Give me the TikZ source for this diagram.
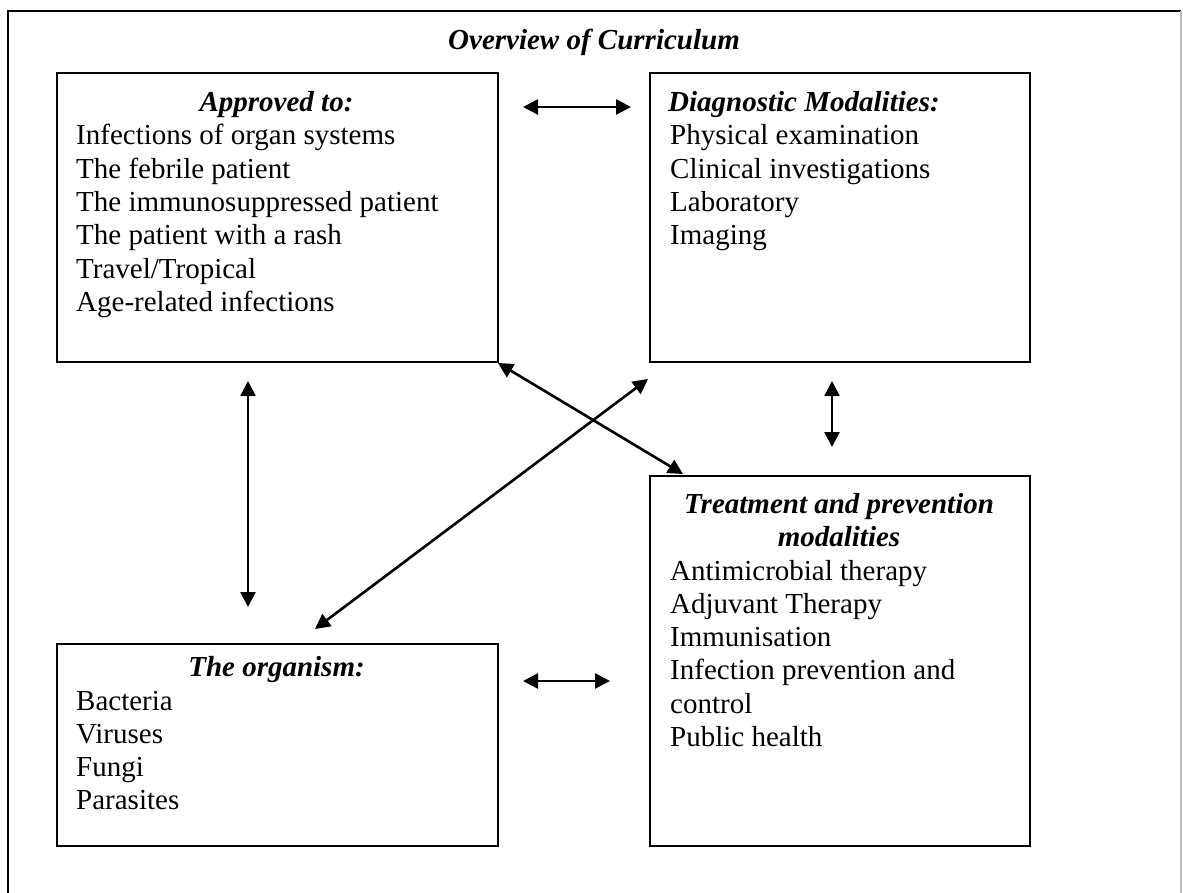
\documentclass[tikz,border=0pt]{standalone}
\usepackage{fontspec}
\setmainfont{Liberation Serif}
\usetikzlibrary{arrows.meta}
\newcommand{\lst}[1]{\begin{tabular}[t]{@{}l@{}}#1\end{tabular}}
\newcommand{\ctr}[1]{\begin{tabular}[t]{@{}c@{}}#1\end{tabular}}
\tikzset{
  box/.style={draw, line width=2pt, anchor=north west, inner sep=0pt},
  head/.style={anchor=base, font=\fontsize{29}{33.3}\selectfont\bfseries\itshape, inner sep=0pt},
  items/.style={anchor=base west, font=\fontsize{29}{33.3}\selectfont, inner sep=0pt},
  link/.style={line width=2.6pt, {Triangle[length=15pt,width=15pt]}-{Triangle[length=15pt,width=15pt]}}
}
\begin{document}
\begin{tikzpicture}[x=1pt,y=-1pt]
\useasboundingbox (0,0) rectangle (1183,893);
\fill[white] (0,0) rectangle (1183,893);
\draw[line width=2pt] (8,900) -- (8,11.5) -- (1181,11.5);
\draw[line width=2pt, black!25] (1181,11.5) -- (1181,900);
\node[head] (title) at (594,50) {Overview of Curriculum};

\node[box, minimum width=441pt, minimum height=289pt] (A) at (56,72) {};
\node[box, minimum width=380pt, minimum height=289pt] (D) at (649,72) {};
\node[box, minimum width=380pt, minimum height=370pt] (T) at (649,475) {};
\node[box, minimum width=441pt, minimum height=202pt] (O) at (56,643) {};

\node[head] (Ah) at (276.5,112) {Approved to:};
\node[items] (Al) at (76,145) {\lst{Infections of organ systems\\The febrile patient\\The immunosuppressed patient\\The patient with a rash\\Travel/Tropical\\Age-related infections}};

\node[head, anchor=base west] (Dh) at (668,112) {Diagnostic Modalities:};
\node[items] (Dl) at (670,145) {\lst{Physical examination\\Clinical investigations\\Laboratory\\Imaging}};

\node[head] (Th) at (839,513) {\ctr{Treatment and prevention\\modalities}};
\node[items] (Tl) at (670,580) {\lst{Antimicrobial therapy\\Adjuvant Therapy\\Immunisation\\Infection prevention and\\control\\Public health}};

\node[head] (Oh) at (276.5,676) {The organism:};
\node[items] (Ol) at (76,710) {\lst{Bacteria\\Viruses\\Fungi\\Parasites}};

\coordinate (ad1) at (523,107); \coordinate (ad2) at (631,107);
\coordinate (ao1) at (248,381); \coordinate (ao2) at (248,607);
\coordinate (dt1) at (832,381); \coordinate (dt2) at (832,447);
\coordinate (at1) at (498,363); \coordinate (at2) at (683,474);
\coordinate (do1) at (648,379); \coordinate (do2) at (315,629);
\coordinate (ot1) at (523,681); \coordinate (ot2) at (610,681);
\draw[link] (ad1) -- (ad2);
\draw[link] (ao1) -- (ao2);
\draw[link] (dt1) -- (dt2);
\draw[link] (at1) -- (at2);
\draw[link] (do1) -- (do2);
\draw[link] (ot1) -- (ot2);
\end{tikzpicture}
\end{document}
